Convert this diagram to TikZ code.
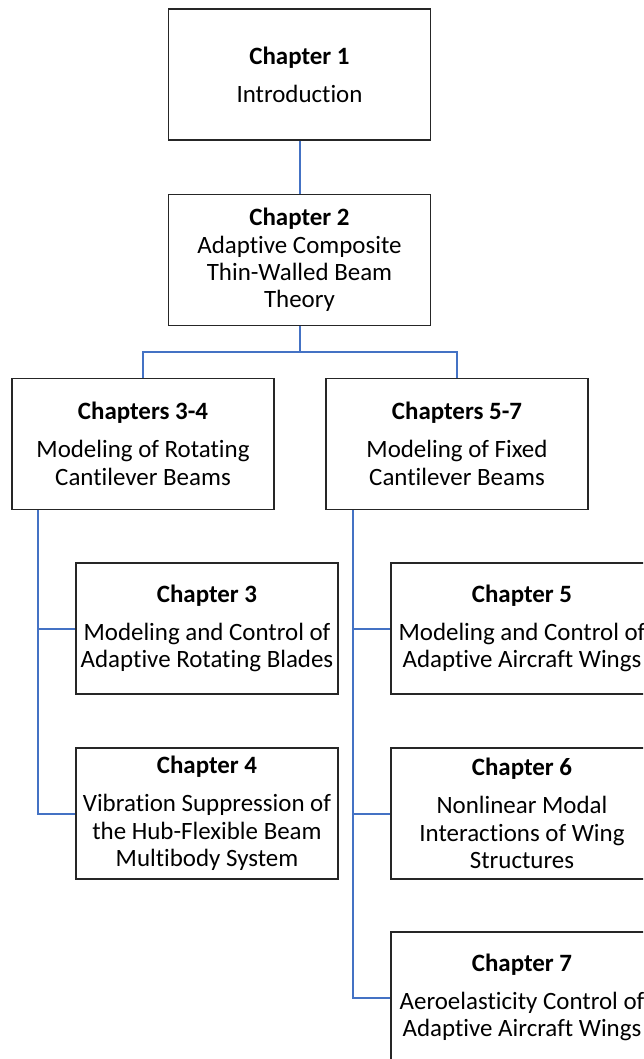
\documentclass[tikz,border=0pt]{standalone}
\usepackage{fontspec}
\setmainfont[Ligatures=NoCommon]{Carlito}
\usepackage{xcolor}
\usetikzlibrary{positioning,calc}
\definecolor{linkblue}{HTML}{4472C4}
\definecolor{boxline}{HTML}{262626}
\newcommand{\chead}[1]{\textbf{#1}\\[7.9pt]}

\begin{document}
\begin{tikzpicture}[
    x=0.75pt, y=-0.75pt,
    box/.style={rectangle, draw=boxline, line width=1.1pt, minimum width=196.5pt, minimum height=98.25pt, inner sep=0pt, align=center, font=\fontsize{18.7}{20.6}\selectfont},
    link/.style={draw=linkblue, line width=1.5pt},
]
    \useasboundingbox (0,0) rectangle (643,1059);
    \clip (0,0) rectangle (643,1059);

    \node[box] (ch1) at (299.5,74.5) {\chead{Chapter 1}Introduction};
    \node[box] (ch2) at (299.5,260) {\textbf{Chapter 2}\\Adaptive Composite\\Thin-Walled Beam\\Theory};
    \node[box] (ch34) at (143,444) {\chead{Chapters 3-4}Modeling of Rotating\\Cantilever Beams};
    \node[box] (ch57) at (457,444) {\chead{Chapters 5-7}Modeling of Fixed\\Cantilever Beams};
    \node[box] (ch3) at (207,628.5) {\chead{Chapter 3}Modeling and Control of\\Adaptive Rotating Blades};
    \node[box] (ch4) at (207,813.5) {\chead{Chapter 4}Vibration Suppression of\\the Hub-Flexible Beam\\Multibody System};
    \node[box] (ch5) at (522,628.5) {\chead{Chapter 5}Modeling and Control of\\Adaptive Aircraft Wings};
    \node[box] (ch6) at (522,813.5) {\chead{Chapter 6}Nonlinear Modal\\Interactions of Wing\\Structures};
    \node[box] (ch7) at (522,997.5) {\chead{Chapter 7}Aeroelasticity Control of\\Adaptive Aircraft Wings};

    \coordinate (split) at ($(ch2.south)+(0,26)$);
    \coordinate (busL) at ($(ch34.south)+(-105,0)$);
    \coordinate (busR) at ($(ch57.south)+(-104,0)$);

    \draw[link] (ch1) -- (ch2);
    \draw[link] (ch2) -- (split) -| (ch34);
    \draw[link] (split) -| (ch57);

    \draw[link] (busL) |- (ch4.west);
    \draw[link] (busL |- ch3.west) -- (ch3.west);
    \draw[link] (busR) |- (ch7.west);
    \draw[link] (busR |- ch5.west) -- (ch5.west);
    \draw[link] (busR |- ch6.west) -- (ch6.west);
\end{tikzpicture}
\end{document}
